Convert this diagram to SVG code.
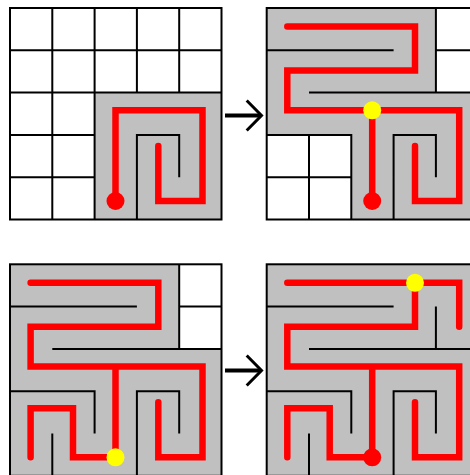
<svg xmlns="http://www.w3.org/2000/svg" width="470" height="475" viewBox="0 0 470 475">
<style>
.bg{fill:#ffffff}
.grey{fill:#c0c0c0}
.wht{fill:#ffffff}
.wall{fill:none;stroke:#000;stroke-width:2;stroke-linecap:butt;stroke-linejoin:miter}
.border{fill:none;stroke:#000;stroke-width:2}
.route{fill:none;stroke:#ff0000;stroke-width:6.5;stroke-linecap:round;stroke-linejoin:miter}
.dred{fill:#ff0000}
.dyel{fill:#ffff00}
.arrow{fill:none;stroke:#000;stroke-linecap:butt}
</style>
<rect width="470" height="475" fill="#ffffff"/>

<g id="panel-1" transform="translate(10,8)">
  <rect class="wht" x="0" y="0" width="211.5" height="211.5"/>
  <rect class="grey" x="84.6" y="84.6" width="126.9" height="126.9"/>
  <path class="wall" d="M42.3,0V211.5 M84.6,0V211.5 M126.9,0V84.6 M169.2,0V84.6 M0,42.3H211.5 M0,84.6H211.5 M0,126.9H84.6 M0,169.2H84.6"/>
  <path class="wall" d="M126.9,211.5V126.9H169.2V169.2"/>
  <rect class="border" x="0" y="0" width="211.5" height="211.5"/>
  <path class="route" d="M105.5,193V102.3H192.5V193H148.3V138"/>
  <circle class="dred" cx="105.5" cy="193" r="9"/>
</g>

<g id="panel-2" transform="translate(266.7,8)">
  <rect class="grey" x="0" y="0" width="211.5" height="211.5"/>
  <rect class="wht" x="169.2" y="0" width="42.3" height="84.6"/>
  <rect class="wht" x="0" y="126.9" width="84.6" height="84.6"/>
  <path class="wall" d="M169.2,0V84.6 M169.2,42.3H211.5 M0,42.3H126.9 M42.3,84.6H211.5 M0,126.9H84.6V211.5 M42.3,126.9V211.5 M0,169.2H84.6 M126.9,211.5V126.9H169.2V169.2"/>
  <rect class="border" x="0" y="0" width="211.5" height="211.5"/>
  <path class="route" d="M20.6,18.5H148.3V62.5H20.6V102.3H192.5V193H148.3V138 M105.5,102.3V193"/>
  <circle class="dred" cx="105.5" cy="193" r="9"/>
  <circle class="dyel" cx="105.5" cy="102.3" r="9"/>
</g>

<g id="panel-3" transform="translate(10,264.3)">
  <rect class="grey" x="0" y="0" width="211.5" height="211.5"/>
  <rect class="wht" x="169.2" y="0" width="42.3" height="84.6"/>
  <path class="wall" d="M169.2,0V84.6 M169.2,42.3H211.5 M0,42.3H126.9 M42.3,84.6H211.5 M126.9,211.5V126.9H169.2V169.2 M0,126.9H84.6V169.2 M42.3,169.2V211.5"/>
  <rect class="border" x="0" y="0" width="211.5" height="211.5"/>
  <path class="route" d="M20.6,18.5H148.3V62.5H20.6V102.3H192.5V193H148.3V138 M105.5,102.3V193H63V144H20.6V193"/>
  <circle class="dyel" cx="105.5" cy="193" r="9"/>
</g>

<g id="panel-4" transform="translate(266.7,264.3)">
  <rect class="grey" x="0" y="0" width="211.5" height="211.5"/>
  <path class="wall" d="M0,42.3H126.9 M169.2,42.3V84.6 M42.3,84.6H211.5 M126.9,211.5V126.9H169.2V169.2 M0,126.9H84.6V169.2 M42.3,169.2V211.5"/>
  <rect class="border" x="0" y="0" width="211.5" height="211.5"/>
  <path class="route" d="M20.6,18.5H192.5V62.5 M148.3,18.5V62.5H20.6V102.3H192.5V193H148.3V138 M105.5,102.3V193H63V144H20.6V193"/>
  <circle class="dred" cx="105.5" cy="193" r="9"/>
  <circle class="dyel" cx="148.3" cy="18.5" r="9"/>
</g>

<g id="connectors">
  <path class="arrow" stroke-width="4" d="M225,115.5H260"/>
  <path class="arrow" stroke-width="3" d="M246.7,100.5L261.5,115.5L246.7,130.5"/>
  <path class="arrow" stroke-width="4" d="M225,370.5H260"/>
  <path class="arrow" stroke-width="3" d="M246.7,355.5L261.5,370.5L246.7,385.5"/>
</g>
</svg>
